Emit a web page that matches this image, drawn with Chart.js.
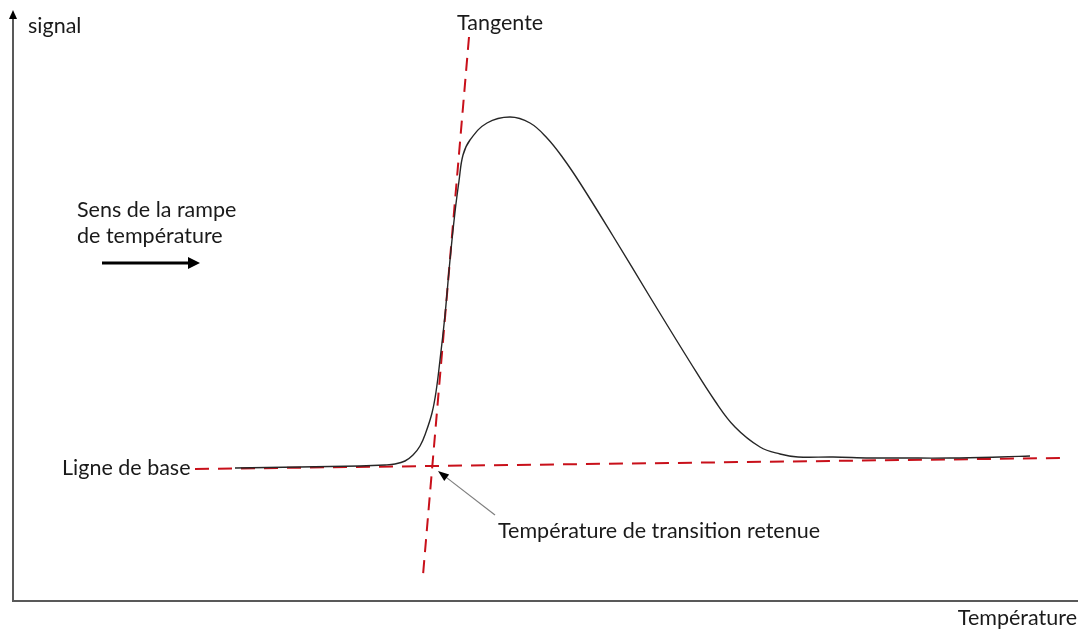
<!doctype html>
<html>
  <head>
    <meta charset="utf-8">
    <title>Signal</title>
    <script src="https://cdn.jsdelivr.net/npm/chart.js@4.4.1/dist/chart.umd.min.js"></script>
    <style>
      html, body { margin: 0; padding: 0; background: #fff; }
      #SignalChart { display: block; }
    </style>
  </head>
  <body>
    <canvas id="SignalChart" width="1078" height="634"></canvas>
    <script>
    // measured signal vs temperature (arbitrary units)
    var temperature = [222, 287, 347, 372, 382, 392, 400, 407, 413, 419, 423, 427, 432, 437, 442, 446, 450, 457, 474, 497, 517, 534, 550, 567, 600, 637, 677, 702, 722, 747, 767, 785, 820, 857, 887, 937, 987, 1017];
    var signal = [133, 134, 135, 136, 137, 140, 146, 155, 169, 188, 209, 241, 286, 341, 389, 420, 446, 461, 478, 484, 478, 463, 443, 418, 365, 304, 239, 200, 174, 154, 147, 144, 144, 143, 143, 143, 144, 145];

    // construction lines
    var tangentX = [456, 410];
    var tangentY = [564, 26];
    var baseX = [182, 1050];
    var baseY = [132, 143];

    // pointer to the retained transition temperature
    var pointerX = [482, 425];
    var pointerY = [86, 130];

    function toPoints(xs, ys) {
      var pts = [];
      for (var i = 0; i < xs.length; i++) pts.push({x: xs[i], y: ys[i]});
      return pts;
    }

    var FONT = "21.5px Lato";
    var RED = "#c8101a";

    var decorPlugin = {
      id: 'decor',
      afterDatasetsDraw: function(chart) {
        var ctx = chart.ctx;
        var xs = chart.scales.x, ys = chart.scales.y;
        var area = chart.chartArea;
        ctx.save();

        // axes
        ctx.strokeStyle = "#595959";
        ctx.lineWidth = 2;
        ctx.beginPath();
        ctx.moveTo(area.left, area.top + 6);
        ctx.lineTo(area.left, area.bottom);
        ctx.lineTo(area.right, area.bottom);
        ctx.stroke();
        ctx.fillStyle = "#000";
        ctx.beginPath();
        ctx.moveTo(area.left, area.top);
        ctx.lineTo(area.left - 4, area.top + 9);
        ctx.lineTo(area.left + 4, area.top + 9);
        ctx.closePath();
        ctx.fill();

        // pointer arrow
        var x0 = xs.getPixelForValue(pointerX[0]), y0 = ys.getPixelForValue(pointerY[0]);
        var x1 = xs.getPixelForValue(pointerX[1]), y1 = ys.getPixelForValue(pointerY[1]);
        var a = Math.atan2(y1 - y0, x1 - x0);
        ctx.strokeStyle = "#7f7f7f";
        ctx.lineWidth = 1.2;
        ctx.beginPath();
        ctx.moveTo(x0, y0);
        ctx.lineTo(x1 - 8 * Math.cos(a), y1 - 8 * Math.sin(a));
        ctx.stroke();
        ctx.fillStyle = "#000";
        ctx.beginPath();
        ctx.moveTo(x1, y1);
        ctx.lineTo(x1 - 11 * Math.cos(a) + 4 * Math.sin(a), y1 - 11 * Math.sin(a) - 4 * Math.cos(a));
        ctx.lineTo(x1 - 11 * Math.cos(a) - 4 * Math.sin(a), y1 - 11 * Math.sin(a) + 4 * Math.cos(a));
        ctx.closePath();
        ctx.fill();

        // ramp direction arrow
        ctx.strokeStyle = "#000";
        ctx.lineWidth = 3;
        ctx.beginPath();
        ctx.moveTo(102, 263);
        ctx.lineTo(190, 263);
        ctx.stroke();
        ctx.beginPath();
        ctx.moveTo(200, 263);
        ctx.lineTo(188, 257);
        ctx.lineTo(188, 269);
        ctx.closePath();
        ctx.fill();

        // labels
        ctx.fillStyle = "#1a1a1a";
        ctx.font = FONT;
        ctx.textBaseline = "alphabetic";
        ctx.textAlign = "left";
        ctx.fillText("signal", 28, 33);
        ctx.fillText("Tangente", 457, 30);
        ctx.fillText("Sens de la rampe", 77, 217);
        ctx.fillText("de température", 77, 243);
        ctx.fillText("Ligne de base", 62, 475);
        ctx.fillText("Température de transition retenue", 498, 538);
        ctx.textAlign = "right";
        ctx.fillText("Température", 1077, 625);
        ctx.restore();
      }
    };

    var chart = new Chart(document.getElementById("SignalChart"), {
      type: 'line',
      data: {
        datasets: [{
          data: toPoints(temperature, signal),
          borderColor: "#262626",
          borderWidth: 1.4,
          pointRadius: 0,
          tension: 0.4
        }, {
          data: toPoints(tangentX, tangentY),
          borderColor: RED,
          borderWidth: 2,
          borderDash: [13, 8],
          pointRadius: 0
        }, {
          data: toPoints(baseX, baseY),
          borderColor: RED,
          borderWidth: 2,
          borderDash: [14, 9],
          pointRadius: 0
        }]
      },
      options: {
        responsive: false,
        animation: false,
        layout: { padding: { left: 13, top: 10, right: 0, bottom: 33 } },
        plugins: { legend: { display: false }, tooltip: { enabled: false } },
        scales: {
          x: { type: 'linear', min: 0, max: 1065, display: false },
          y: { type: 'linear', min: 0, max: 591, display: false }
        }
      },
      plugins: [decorPlugin]
    });
    </script>
  </body>
</html>
